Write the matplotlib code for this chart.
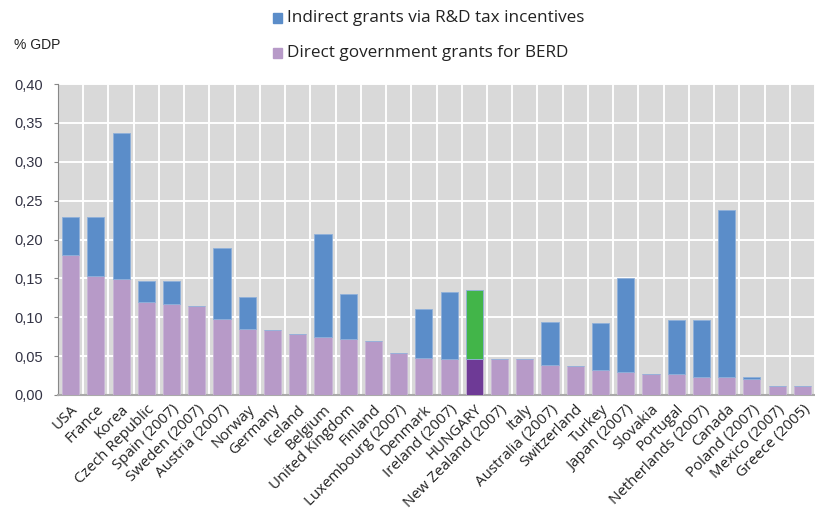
import matplotlib.pyplot as plt
import numpy as np

countries = ['USA', 'France', 'Korea', 'Czech Republic', 'Spain (2007)', 'Sweden (2007)',
             'Austria (2007)', 'Norway', 'Germany', 'Iceland', 'Belgium', 'United Kingdom',
             'Finland', 'Luxembourg (2007)', 'Denmark', 'Ireland (2007)', 'HUNGARY',
             'New Zealand (2007)', 'Italy', 'Australia (2007)', 'Switzerland', 'Turkey',
             'Japan (2007)', 'Slovakia', 'Portugal', 'Netherlands (2007)', 'Canada',
             'Poland (2007)', 'Mexico (2007)', 'Greece (2005)']
# direct government grants for BERD, % of GDP
direct = [0.180, 0.153, 0.149, 0.120, 0.117, 0.114, 0.098, 0.085, 0.084, 0.078,
          0.074, 0.072, 0.070, 0.054, 0.048, 0.046, 0.046, 0.046, 0.046, 0.039,
          0.037, 0.032, 0.030, 0.027, 0.027, 0.023, 0.023, 0.021, 0.012, 0.012]
# direct + indirect (tax incentives) total, % of GDP
total = [0.229, 0.229, 0.337, 0.146, 0.146, 0.114, 0.189, 0.126, 0.084, 0.078,
         0.207, 0.130, 0.070, 0.054, 0.111, 0.133, 0.135, 0.046, 0.046, 0.094,
         0.037, 0.092, 0.151, 0.027, 0.096, 0.096, 0.238, 0.023, 0.012, 0.012]
highlight = 'HUNGARY'
yticks = [0.0, 0.05, 0.10, 0.15, 0.20, 0.25, 0.30, 0.35, 0.40]

direct = np.array(direct)
indirect = np.array(total) - direct
x = np.arange(len(countries))

c_direct = '#b79ac8'
c_indirect = '#5b8dc9'
c_direct_hl = '#6e3a96'
c_indirect_hl = '#42b549'
col_d = [c_direct_hl if c == highlight else c_direct for c in countries]
col_i = [c_indirect_hl if c == highlight else c_indirect for c in countries]

fig = plt.figure(figsize=(8.15, 5.21), dpi=100)
ax = fig.add_axes([58 / 815, 1 - 395 / 521, 1 - 58 / 815, 311 / 521])
ax.set_facecolor('#d9d9d9')

ax.bar(x, direct, width=0.68, color=col_d, edgecolor='#c9b6d6', linewidth=0.6, zorder=3)
ax.bar(x, indirect, bottom=direct, width=0.68, color=col_i, edgecolor='#8fb0da',
       linewidth=0.6, zorder=3)

ax.set_xlim(-0.5, len(countries) - 0.5)
ax.set_ylim(0, 0.40)
ax.set_yticks(yticks)
ax.set_yticklabels([f'{v:.2f}'.replace('.', ',') for v in yticks],
                   fontsize=10.5, color='#333344', family='Liberation Sans')
ax.set_xticks(x)
ax.set_xticklabels(countries, rotation=45, ha='right', rotation_mode='anchor',
                   fontsize=10.8, color='#222222', family='Open Sans')
ax.set_xticks(np.arange(len(countries) + 1) - 0.5, minor=True)
ax.grid(True, axis='y', which='major', color='white', linewidth=1.4, zorder=1)
ax.grid(True, axis='x', which='minor', color='white', linewidth=1.4, zorder=1)
ax.tick_params(axis='x', which='both', length=0, pad=5)
ax.tick_params(axis='y', length=3, color='#888888', pad=8)

for s in ['top', 'right']:
    ax.spines[s].set_visible(False)
ax.spines['left'].set_color('#888888')
ax.spines['bottom'].set_color('#aaaaaa')
ax.spines['bottom'].set_linewidth(1.5)

fig.text(14 / 815, 1 - 45 / 521, '% GDP', fontsize=10, color='#222222',
         family='Liberation Sans', va='center')

# legend entries drawn as squares plus labels
legend = [(c_indirect, 'Indirect grants via R&D tax incentives', 18),
          (c_direct, 'Direct government grants for BERD', 53)]
for col, label, ypix in legend:
    fig.patches.append(plt.Rectangle((273 / 815, 1 - (ypix + 5) / 521), 9 / 815, 10 / 521,
                                     transform=fig.transFigure, color=col))
    fig.text(287 / 815, 1 - ypix / 521, label, fontsize=12.3, color='#222222',
             family='Open Sans', va='center')

fig.savefig('out.png', dpi=100)
